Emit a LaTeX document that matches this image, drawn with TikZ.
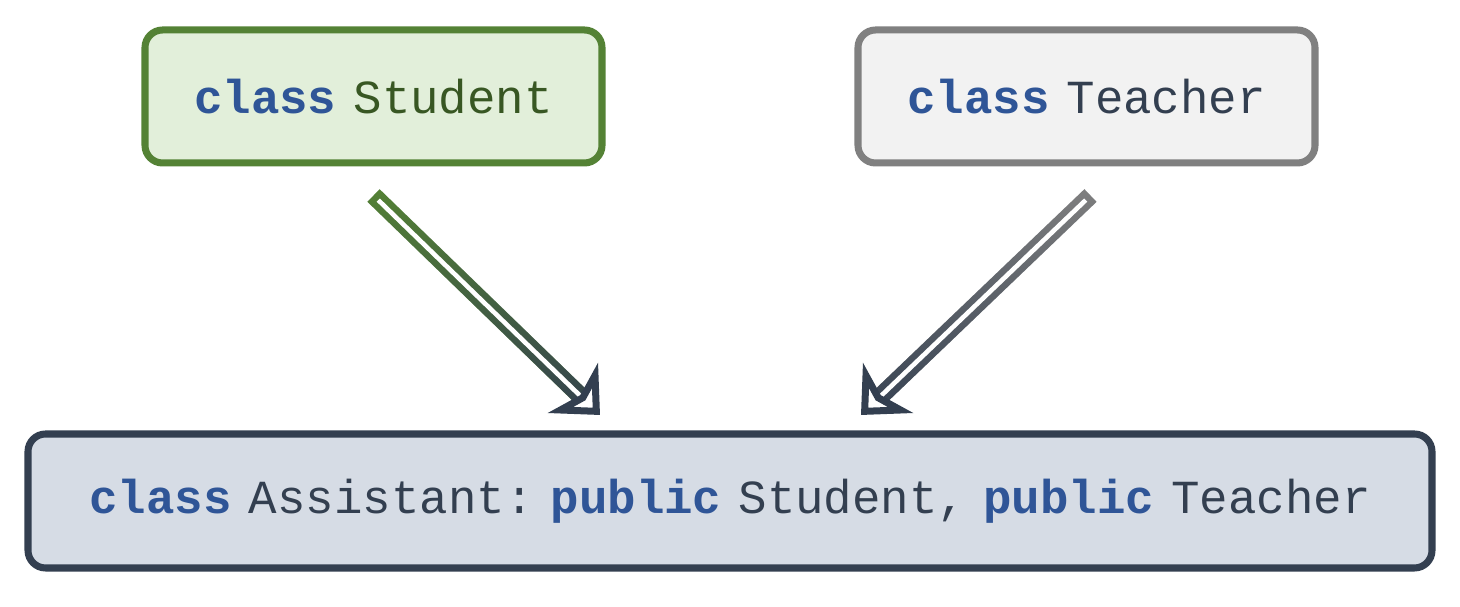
\documentclass[tikz,border=0pt]{standalone}
\usepackage{fontspec}
\setmonofont[WordSpace=0.6]{Liberation Mono}
\usetikzlibrary{arrows.meta,fadings}
\definecolor{stuGreen}{RGB}{84,130,53}
\definecolor{stuFill}{RGB}{226,239,218}
\definecolor{stuText}{RGB}{56,87,35}
\definecolor{teaGray}{RGB}{128,128,128}
\definecolor{teaFill}{RGB}{242,242,242}
\definecolor{asNavy}{RGB}{51,63,80}
\definecolor{asFill}{RGB}{214,220,229}
\definecolor{kwBlue}{RGB}{47,85,151}
\newcommand{\kw}[1]{{\bfseries\color{kwBlue}#1}}
\tikzfading[name=toBase, top color=transparent!100, bottom color=transparent!0]

\begin{document}
\begin{tikzpicture}[font=\ttfamily\fontsize{13.5}{16}\selectfont,
      cls/.style={rectangle, rounded corners=5pt, line width=2pt, align=center,
                  minimum width=4.57cm, minimum height=1.33cm},
      shaft/.style={line width=5pt, shorten >=0.2cm},
      core/.style={white, line width=1.3pt, shorten <=1.9pt, shorten >=0.2cm},
      head/.style={asNavy, line width=2pt,
                   -{Stealth[open, fill=white, length=0.38cm, width=0.7cm, inset=0.1cm]}}]
    \useasboundingbox (0,0) rectangle (14.6,6.07);
    \node[cls, draw=stuGreen, fill=stuFill, text=stuText] (stu) at (3.735,5.105) {\kw{class} Student};
    \node[cls, draw=teaGray, fill=teaFill, text=asNavy] (tea) at (10.865,5.105) {\kw{class} Teacher};
    \node[cls, draw=asNavy, fill=asFill, text=asNavy, minimum width=14.04cm, minimum height=1.34cm] (asst) at (7.3,1.06)
      {\kw{class} Assistant: \kw{public} Student, \kw{public} Teacher};
    \coordinate (stuIn) at (6.0,1.92);
    \coordinate (teaIn) at (8.61,1.92);
    % colour runs into navy near the base class
    \draw[shaft, stuGreen] ([yshift=-0.29cm]stu.south) -- (stuIn);
    \draw[shaft, asNavy, path fading=toBase] ([yshift=-0.29cm]stu.south) -- (stuIn);
    \draw[core] ([yshift=-0.29cm]stu.south) -- (stuIn);
    \draw[head] ([xshift=-0.15cm,yshift=0.15cm]stuIn) -- (stuIn);
    \draw[shaft, teaGray] ([xshift=0.04cm,yshift=-0.29cm]tea.south) -- (teaIn);
    \draw[shaft, asNavy, path fading=toBase] ([xshift=0.04cm,yshift=-0.29cm]tea.south) -- (teaIn);
    \draw[core] ([xshift=0.04cm,yshift=-0.29cm]tea.south) -- (teaIn);
    \draw[head] ([xshift=0.15cm,yshift=0.15cm]teaIn) -- (teaIn);
\end{tikzpicture}
\end{document}
